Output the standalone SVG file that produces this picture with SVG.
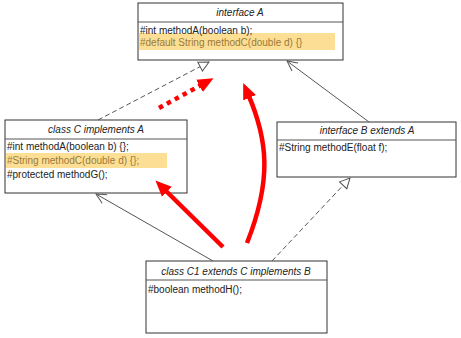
<svg xmlns="http://www.w3.org/2000/svg" width="461" height="338" viewBox="0 0 461 338">
<style>
.box{fill:#fff;stroke:#333;stroke-width:1}
.hl{fill:#fcdf94}
.t{font-family:"Liberation Sans",Arial,sans-serif;font-size:10px;fill:#222}
.ti{font-family:"Liberation Sans",Arial,sans-serif;font-size:10px;font-style:italic;fill:#222;text-anchor:middle}
.th{fill:#9a7a3a}
.c{fill:none;stroke:#555;stroke-width:1}
.d{stroke-dasharray:5,3}
.r{fill:none;stroke:#f00;stroke-width:4.5}
</style>
<defs>
<marker id="tri" markerWidth="14" markerHeight="14" refX="11" refY="6" orient="auto" markerUnits="userSpaceOnUse">
<path d="M1,1 L11,6 L1,11 Z" fill="#fff" stroke="#555" stroke-width="1"/>
</marker>
<marker id="open" markerWidth="14" markerHeight="14" refX="11" refY="6" orient="auto" markerUnits="userSpaceOnUse">
<path d="M1,1 L11,6 L1,11" fill="none" stroke="#555" stroke-width="1"/>
</marker>
<marker id="red" markerWidth="20" markerHeight="20" refX="4" refY="8" orient="auto" markerUnits="userSpaceOnUse">
<path d="M0,1 L16,8 L0,15 Z" fill="#f00"/>
</marker>
</defs>
<g id="interfaceA">
<rect class="box" x="138" y="3" width="205" height="57"/>
<line class="c" x1="138" y1="22" x2="343" y2="22" stroke="#333"/>
<rect class="hl" x="139" y="33" width="196" height="17"/>
<text class="ti" x="240" y="16">interface A</text>
<text class="t" x="140" y="34">#int methodA(boolean b);</text>
<text class="t th" x="140" y="46">#default String methodC(double d) {}</text>
</g>
<g id="classC">
<rect class="box" x="5" y="120" width="182" height="73"/>
<line class="c" x1="5" y1="139" x2="187" y2="139" stroke="#333"/>
<rect class="hl" x="6" y="153" width="161" height="15"/>
<text class="ti" x="96" y="133">class C implements A</text>
<text class="t" x="7" y="150">#int methodA(boolean b) {};</text>
<text class="t th" x="7" y="164">#String methodC(double d) {};</text>
<text class="t" x="7" y="178">#protected methodG();</text>
</g>
<g id="interfaceB">
<rect class="box" x="277" y="122" width="179" height="55"/>
<line class="c" x1="277" y1="140" x2="456" y2="140" stroke="#333"/>
<text class="ti" x="367" y="134">interface B extends A</text>
<text class="t" x="279" y="151">#String methodE(float f);</text>
</g>
<g id="classC1">
<rect class="box" x="146" y="261" width="181" height="72"/>
<line class="c" x1="146" y1="280" x2="327" y2="280" stroke="#333"/>
<text class="ti" x="236" y="275">class C1 extends C implements B</text>
<text class="t" x="148" y="293">#boolean methodH();</text>
</g>
<g id="connectors">
<line class="c d" x1="98" y1="120" x2="209" y2="62" marker-end="url(#tri)"/>
<line class="c" x1="369" y1="122" x2="287" y2="61" marker-end="url(#open)"/>
<line class="c" x1="213" y1="261" x2="96" y2="194" marker-end="url(#open)"/>
<line class="c d" x1="272" y1="261" x2="350" y2="178" marker-end="url(#tri)"/>
<line class="r" x1="159" y1="108" x2="203" y2="84" stroke-dasharray="4.5,4.5" marker-end="url(#red)"/>
<line class="r" x1="223" y1="247" x2="164" y2="189" marker-end="url(#red)"/>
<path class="r" d="M247,243 C272,180 268,140 248,94" marker-end="url(#red)"/>
</g>
</svg>
